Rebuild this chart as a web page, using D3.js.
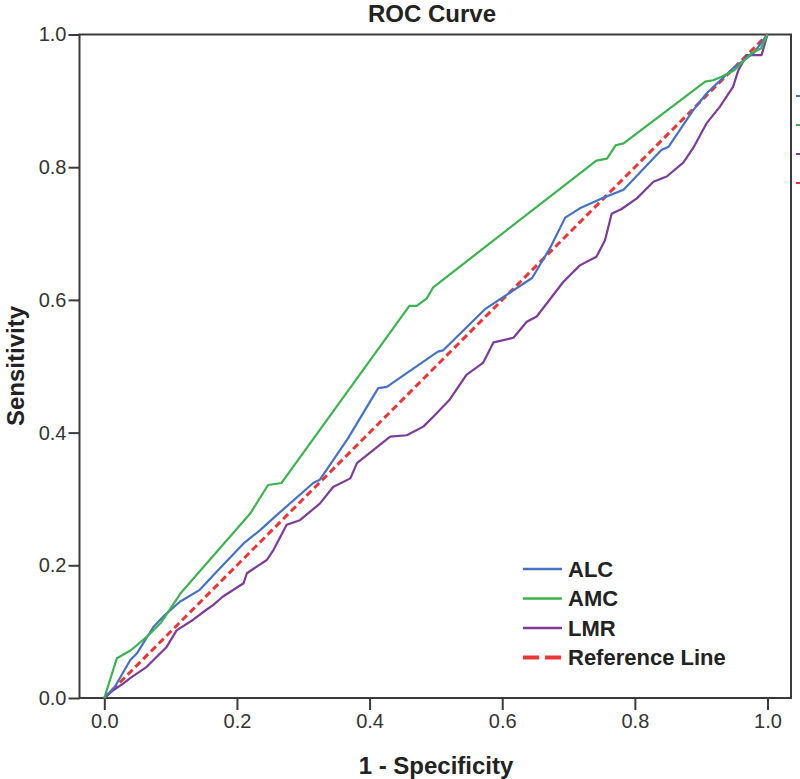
<!DOCTYPE html>
<html><head><meta charset="utf-8">
<script src="https://cdn.jsdelivr.net/npm/d3@7/dist/d3.min.js"></script>
<style>body{margin:0;background:#fff}svg text{font-family:"Liberation Sans Narrow","Arial Narrow","Liberation Sans",Arial,sans-serif}</style>
</head><body>
<svg id="c" width="800" height="779"></svg>
<script>
const xTicks = [0, 0.2, 0.4, 0.6, 0.8, 1.0];
const yTicks = [0, 0.2, 0.4, 0.6, 0.8, 1.0];
const seriesNames = ["ALC", "AMC", "LMR", "Reference Line"];
const seriesColors = ["#4472c4", "#3db34f", "#7d3c98", "#ee3535"];
const alcX = [0,0.016,0.039,0.049,0.074,0.089,0.114,0.144,0.169,0.21,0.235,0.257,0.315,0.325,0.366,0.413,0.426,0.503,0.511,0.574,0.645,0.672,0.695,0.717,0.75,0.783,0.84,0.851,0.888,0.908,0.948,0.979,1];
const alcY = [0,0.017,0.057,0.067,0.107,0.123,0.145,0.163,0.19,0.233,0.253,0.273,0.324,0.329,0.389,0.467,0.469,0.522,0.524,0.586,0.633,0.678,0.724,0.738,0.753,0.766,0.826,0.831,0.886,0.911,0.949,0.972,1];
const amcX = [0,0.019,0.04,0.064,0.085,0.11,0.115,0.22,0.247,0.267,0.46,0.471,0.486,0.496,0.742,0.758,0.771,0.783,0.906,0.918,0.93,0.95,0.976,0.99,1];
const amcY = [0,0.06,0.072,0.092,0.113,0.15,0.158,0.278,0.321,0.324,0.591,0.591,0.602,0.619,0.81,0.813,0.833,0.836,0.929,0.931,0.936,0.946,0.972,0.979,1];
const lmrX = [0,0.014,0.029,0.039,0.064,0.084,0.094,0.109,0.134,0.154,0.164,0.179,0.21,0.215,0.245,0.255,0.275,0.295,0.325,0.345,0.371,0.381,0.431,0.456,0.481,0.496,0.521,0.546,0.571,0.587,0.617,0.637,0.652,0.672,0.692,0.717,0.742,0.755,0.765,0.78,0.803,0.828,0.848,0.873,0.888,0.908,0.928,0.948,0.956,0.969,0.991,1];
const lmrY = [0,0.012,0.022,0.03,0.047,0.067,0.077,0.102,0.118,0.133,0.14,0.153,0.173,0.188,0.208,0.223,0.261,0.268,0.293,0.318,0.331,0.354,0.394,0.396,0.409,0.424,0.45,0.487,0.505,0.536,0.543,0.567,0.575,0.601,0.627,0.652,0.665,0.69,0.73,0.737,0.753,0.778,0.786,0.807,0.829,0.866,0.891,0.921,0.946,0.969,0.969,1];
const refX = [0, 1];
const refY = [0, 1];

const svg = d3.select("#c");
const x = d3.scaleLinear().domain([0, 1]).range([104.3, 767.5]);
const y = d3.scaleLinear().domain([0, 1]).range([698, 34.5]);
const fL = 79.5, fR = 791, fT = 34.5, fB = 698;
const fmt = d3.format(".1f");

// frame
svg.append("rect").attr("x", fL).attr("y", fT).attr("width", fR - fL).attr("height", fB - fT)
  .attr("fill", "none").attr("stroke", "#3a3a3a").attr("stroke-width", 2);

// axes
const xa = svg.append("g").attr("transform", `translate(0,${fB})`)
  .call(d3.axisBottom(x).tickValues(xTicks).tickFormat(fmt).tickSize(12).tickPadding(4));
const ya = svg.append("g").attr("transform", `translate(${fL},0)`)
  .call(d3.axisLeft(y).tickValues(yTicks).tickFormat(fmt).tickSize(11).tickPadding(2));
[xa, ya].forEach(g => {
  g.select(".domain").remove();
  g.selectAll("line").attr("stroke", "#3a3a3a").attr("stroke-width", 2);
  g.selectAll("text").attr("font-size", 20).attr("fill", "#333");
});

// series
const series = [
  {xs: alcX, ys: alcY}, {xs: amcX, ys: amcY}, {xs: lmrX, ys: lmrY}, {xs: refX, ys: refY}
];
const line = d3.line().x(d => x(d[0])).y(d => y(d[1]));
const order = [3, 2, 0, 1];
order.forEach(i => {
  const s = series[i];
  const pts = s.xs.map((v, k) => [v, s.ys[k]]);
  const p = svg.append("path").datum(pts).attr("d", line).attr("fill", "none")
    .attr("stroke", seriesColors[i]).attr("stroke-linejoin", "round");
  if (i === 3) p.attr("stroke-width", 3).attr("stroke-dasharray", "7,4");
  else p.attr("stroke-width", 2.2);
});

// legend
const lg = svg.append("g");
seriesNames.forEach((n, i) => {
  const yy = 569 + i * 29.5;
  const l = lg.append("line").attr("x1", 523).attr("x2", 562).attr("y1", yy).attr("y2", yy)
    .attr("stroke", seriesColors[i]);
  if (i === 3) l.attr("stroke-width", 4).attr("stroke-dasharray", "16,6");
  else l.attr("stroke-width", 2.5);
  lg.append("text").attr("x", 568).attr("y", yy).attr("dy", "0.36em")
    .attr("font-size", 22).attr("font-weight", "bold").attr("fill", "#222").text(n);
});

// clipped legend marks at right edge
seriesNames.forEach((n, i) => {
  svg.append("line").attr("x1", 796).attr("x2", 800).attr("y1", 96 + i * 29).attr("y2", 96 + i * 29)
    .attr("stroke", seriesColors[i]).attr("stroke-width", 2);
});

// titles
svg.append("text").attr("x", 432).attr("y", 13).attr("dy", "0.36em").attr("text-anchor", "middle")
  .attr("font-size", 24).attr("font-weight", "bold").attr("fill", "#222").text("ROC Curve");
svg.append("text").attr("x", 436).attr("y", 765).attr("dy", "0.36em").attr("text-anchor", "middle")
  .attr("font-size", 24).attr("font-weight", "bold").attr("fill", "#222").text("1 - Specificity");
svg.append("text").attr("transform", "translate(15,366) rotate(-90)").attr("dy", "0.36em")
  .attr("text-anchor", "middle").attr("font-size", 24).attr("font-weight", "bold").attr("fill", "#222").text("Sensitivity");
</script>
</body></html>
